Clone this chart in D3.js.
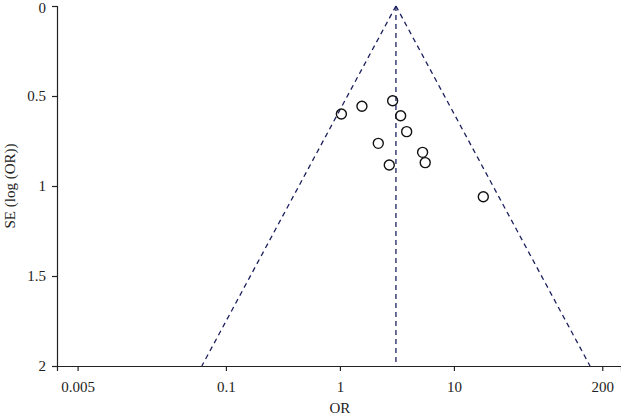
<!DOCTYPE html>
<html>
<head>
<meta charset="utf-8">
<script src="https://cdn.jsdelivr.net/npm/d3@7"></script>
<style>
  body { margin: 0; background: #fff; }
  svg text { font-family: "Liberation Serif", "DejaVu Serif", serif; fill: #222; }
</style>
</head>
<body>
<svg id="chart" viewBox="0 0 621 416" width="621" height="416"></svg>
<script>
// study estimates
const orValues = [1.03, 1.56, 2.90, 3.41, 3.85, 2.17, 5.31, 5.60, 2.71, 18.1]
const seValues = [0.60, 0.557, 0.526, 0.61, 0.698, 0.763, 0.813, 0.87, 0.883, 1.06]
const pooledOR = 3.1
const xTicks = [0.005, 0.1, 1, 10, 200]
const yTicks = [0, 0.5, 1, 1.5, 2]

let svg = d3.select("#chart")
let width = parseInt(svg.attr("viewBox").split(' ')[2])
let height = parseInt(svg.attr("viewBox").split(' ')[3])

let x = d3.scaleLog().domain([0.0033, 292]).range([57, width])
let y = d3.scaleLinear().domain([0, 2]).range([6, 366])

const navy = "#1c1f5e"

// funnel lines (pseudo 95% limits)
let z = 1.96
let funnel = [
    [[pooledOR, 0], [pooledOR * Math.exp(-z * 2), 2]],
    [[pooledOR, 0], [pooledOR * Math.exp(z * 2), 2]],
    [[pooledOR, 0], [pooledOR, 2]]
]
svg.append("g")
    .selectAll("line")
    .data(funnel)
    .enter()
    .append("line")
    .attr("x1", d => x(d[0][0]))
    .attr("y1", d => y(d[0][1]))
    .attr("x2", d => x(d[1][0]))
    .attr("y2", d => y(d[1][1]))
    .attr("stroke", navy)
    .attr("stroke-width", 1.3)
    .attr("stroke-dasharray", "5,4")

// axes
let xAxis = svg.append("g")
    .attr("transform", `translate(0,${y(2)})`)
    .call(d3.axisBottom(x).tickValues(xTicks).tickFormat(d3.format("")).tickSizeOuter(0).tickSize(5).tickPadding(10))
let yAxis = svg.append("g")
    .attr("transform", `translate(${x.range()[0]},0)`)
    .call(d3.axisLeft(y).tickValues(yTicks).tickFormat(d => d).tickSizeOuter(0).tickSize(5).tickPadding(6))
svg.selectAll(".domain, .tick line").attr("stroke", "#222").attr("stroke-width", 1.2)
svg.selectAll(".tick text").attr("font-size", 15).attr("font-family", "Liberation Serif, serif").attr("fill", "#222")
// keep the top label inside the picture
yAxis.selectAll(".tick text").filter(d => d === 0).attr("dy", "0.42em")

svg.append("text")
    .attr("x", x(1))
    .attr("y", 413)
    .attr("text-anchor", "middle")
    .attr("font-size", 15)
    .text("OR")
svg.append("text")
    .attr("transform", `translate(15,${y(1)}) rotate(-90)`)
    .attr("text-anchor", "middle")
    .attr("font-size", 15)
    .text("SE (log (OR))")

// study points
svg.append("g")
    .selectAll("circle")
    .data(orValues.map((d, i) => ({or: d, se: seValues[i]})))
    .enter()
    .append("circle")
    .attr("cx", d => x(d.or))
    .attr("cy", d => y(d.se))
    .attr("r", 5)
    .attr("fill", "none")
    .attr("stroke", "#111")
    .attr("stroke-width", 1.4)
</script>
</body>
</html>
